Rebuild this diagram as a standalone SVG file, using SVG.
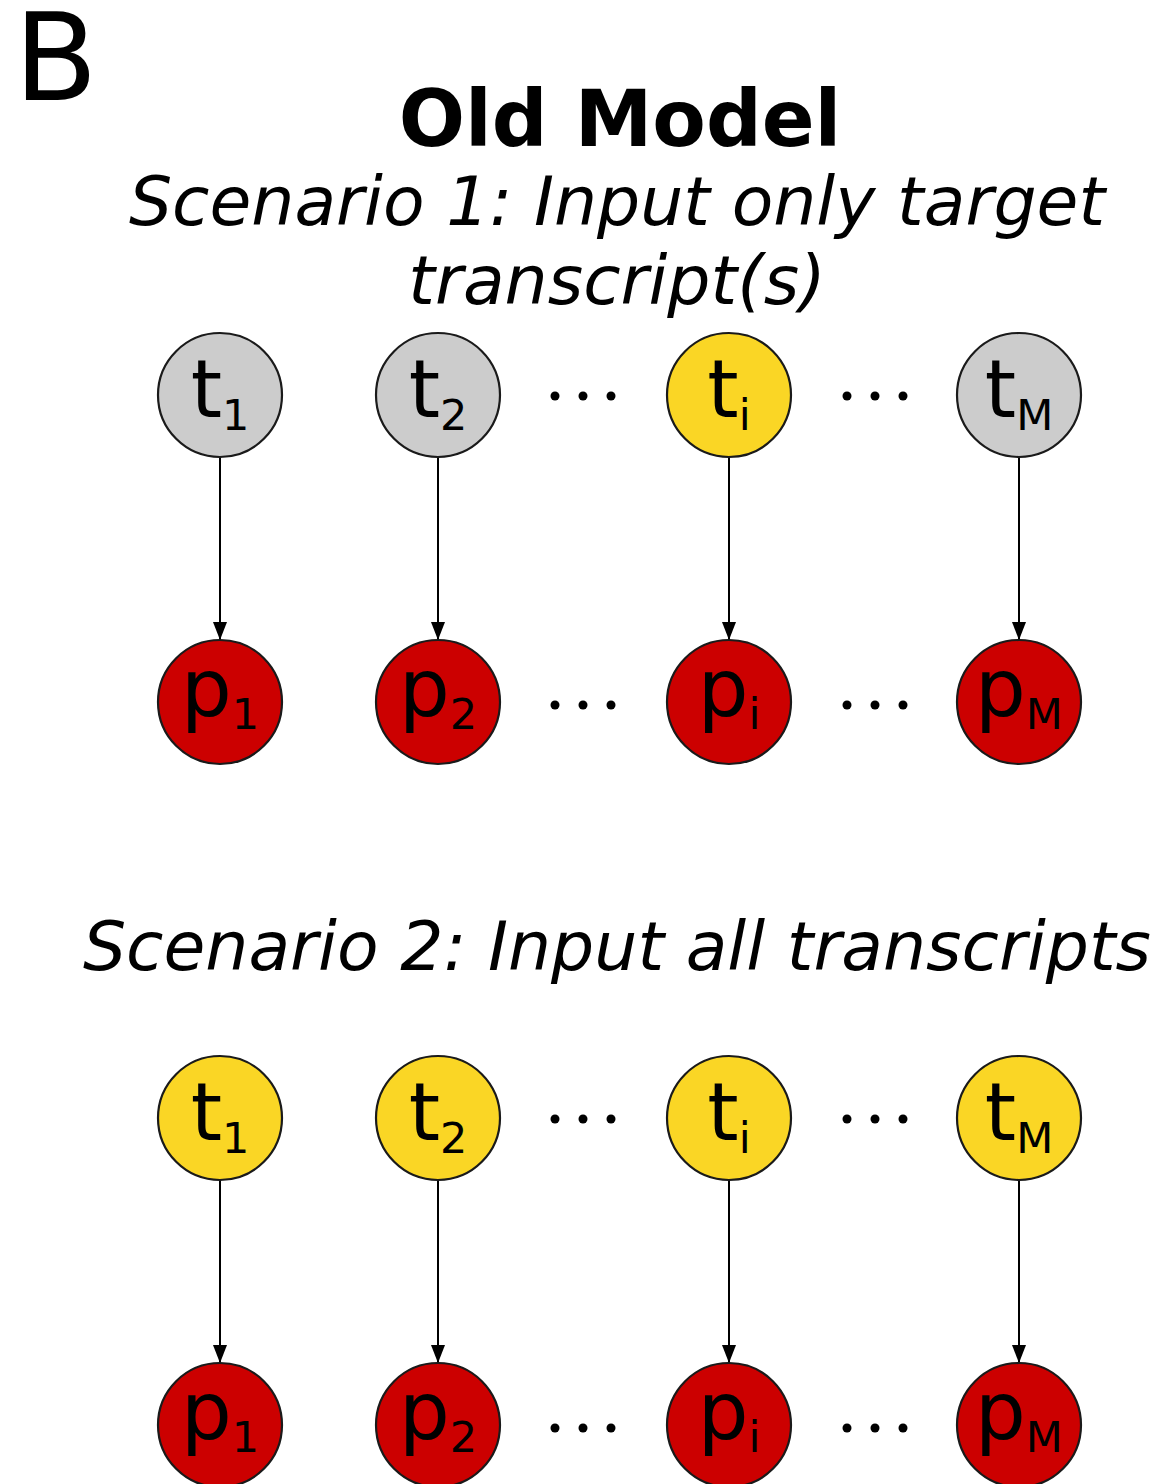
<svg xmlns="http://www.w3.org/2000/svg" width="1152" height="1484" viewBox="0 0 1152 1484">
  <style>
    .title { font-family: "DejaVu Sans", sans-serif; fill: #000; }
    .head { font-weight: bold; font-size: 78px; }
    .scen { font-style: oblique; font-size: 68px; }
    .node circle { stroke: #1a1a1a; stroke-width: 2.2; }
    .gray { fill: #cccccc; }
    .yellow { fill: #fad625; }
    .red { fill: #cc0000; }
    .lbl { font-family: "DejaVu Sans", sans-serif; font-size: 80px; fill: #000; text-anchor: middle; }
    .sub { font-size: 43px; }
    .edge { stroke: #000; stroke-width: 2; fill: none; marker-end: url(#arrow); }
    .dots circle { fill: #000; }
  </style>
  <defs>
    <!-- filled arrowhead, tip on the end point of the line -->
    <marker id="arrow" viewBox="0 0 18 14" markerWidth="18" markerHeight="14" refX="18" refY="7" orient="auto" markerUnits="userSpaceOnUse">
      <path d="M0,0 L18,7 L0,14 Z" fill="#000"/>
    </marker>
  </defs>
  <rect width="1152" height="1484" fill="#fff"/>

  <!-- panel letter and headings -->
  <text class="title" x="14" y="100" font-size="122">B</text>
  <text class="title head" x="620" y="146" text-anchor="middle">Old Model</text>
  <text class="title scen" x="617" y="225" text-anchor="middle">Scenario 1: Input only target</text>
  <text class="title scen" x="617" y="304" text-anchor="middle">transcript(s)</text>
  <text class="title scen" x="617" y="970" text-anchor="middle">Scenario 2: Input all transcripts</text>

  <!-- connectors -->
  <g id="connectors">
    <line class="edge" x1="220" y1="457" x2="220" y2="640"/>
    <line class="edge" x1="438" y1="457" x2="438" y2="640"/>
    <line class="edge" x1="729" y1="457" x2="729" y2="640"/>
    <line class="edge" x1="1019" y1="457" x2="1019" y2="640"/>
    <line class="edge" x1="220" y1="1180" x2="220" y2="1363"/>
    <line class="edge" x1="438" y1="1180" x2="438" y2="1363"/>
    <line class="edge" x1="729" y1="1180" x2="729" y2="1363"/>
    <line class="edge" x1="1019" y1="1180" x2="1019" y2="1363"/>
  </g>

  <!-- scenario 1: transcripts -->
  <g id="s1_t1" class="node"><circle class="gray" cx="220" cy="395" r="62"/><text class="lbl" x="220" y="417">t<tspan class="sub" dy="13">1</tspan></text></g>
  <g id="s1_t2" class="node"><circle class="gray" cx="438" cy="395" r="62"/><text class="lbl" x="438" y="417">t<tspan class="sub" dy="13">2</tspan></text></g>
  <g id="s1_ti" class="node"><circle class="yellow" cx="729" cy="395" r="62"/><text class="lbl" x="729" y="417">t<tspan class="sub" dy="13">i</tspan></text></g>
  <g id="s1_tM" class="node"><circle class="gray" cx="1019" cy="395" r="62"/><text class="lbl" x="1019" y="417">t<tspan class="sub" dy="13">M</tspan></text></g>

  <!-- scenario 1: proteins -->
  <g id="s1_p1" class="node"><circle class="red" cx="220" cy="702" r="62"/><text class="lbl" x="220" y="716">p<tspan class="sub" dy="13">1</tspan></text></g>
  <g id="s1_p2" class="node"><circle class="red" cx="438" cy="702" r="62"/><text class="lbl" x="438" y="716">p<tspan class="sub" dy="13">2</tspan></text></g>
  <g id="s1_pi" class="node"><circle class="red" cx="729" cy="702" r="62"/><text class="lbl" x="729" y="716">p<tspan class="sub" dy="13">i</tspan></text></g>
  <g id="s1_pM" class="node"><circle class="red" cx="1019" cy="702" r="62"/><text class="lbl" x="1019" y="716">p<tspan class="sub" dy="13">M</tspan></text></g>

  <!-- scenario 2: transcripts -->
  <g id="s2_t1" class="node"><circle class="yellow" cx="220" cy="1118" r="62"/><text class="lbl" x="220" y="1140">t<tspan class="sub" dy="13">1</tspan></text></g>
  <g id="s2_t2" class="node"><circle class="yellow" cx="438" cy="1118" r="62"/><text class="lbl" x="438" y="1140">t<tspan class="sub" dy="13">2</tspan></text></g>
  <g id="s2_ti" class="node"><circle class="yellow" cx="729" cy="1118" r="62"/><text class="lbl" x="729" y="1140">t<tspan class="sub" dy="13">i</tspan></text></g>
  <g id="s2_tM" class="node"><circle class="yellow" cx="1019" cy="1118" r="62"/><text class="lbl" x="1019" y="1140">t<tspan class="sub" dy="13">M</tspan></text></g>

  <!-- scenario 2: proteins -->
  <g id="s2_p1" class="node"><circle class="red" cx="220" cy="1425" r="62"/><text class="lbl" x="220" y="1439">p<tspan class="sub" dy="13">1</tspan></text></g>
  <g id="s2_p2" class="node"><circle class="red" cx="438" cy="1425" r="62"/><text class="lbl" x="438" y="1439">p<tspan class="sub" dy="13">2</tspan></text></g>
  <g id="s2_pi" class="node"><circle class="red" cx="729" cy="1425" r="62"/><text class="lbl" x="729" y="1439">p<tspan class="sub" dy="13">i</tspan></text></g>
  <g id="s2_pM" class="node"><circle class="red" cx="1019" cy="1425" r="62"/><text class="lbl" x="1019" y="1439">p<tspan class="sub" dy="13">M</tspan></text></g>

  <!-- ellipses between columns -->
  <g class="dots">
    <circle cx="555" cy="396" r="4.5"/><circle cx="583" cy="396" r="4.5"/><circle cx="611" cy="396" r="4.5"/>
    <circle cx="847" cy="396" r="4.5"/><circle cx="875" cy="396" r="4.5"/><circle cx="903" cy="396" r="4.5"/>
    <circle cx="555" cy="705" r="4.5"/><circle cx="583" cy="705" r="4.5"/><circle cx="611" cy="705" r="4.5"/>
    <circle cx="847" cy="705" r="4.5"/><circle cx="875" cy="705" r="4.5"/><circle cx="903" cy="705" r="4.5"/>
    <circle cx="555" cy="1119" r="4.5"/><circle cx="583" cy="1119" r="4.5"/><circle cx="611" cy="1119" r="4.5"/>
    <circle cx="847" cy="1119" r="4.5"/><circle cx="875" cy="1119" r="4.5"/><circle cx="903" cy="1119" r="4.5"/>
    <circle cx="555" cy="1428" r="4.5"/><circle cx="583" cy="1428" r="4.5"/><circle cx="611" cy="1428" r="4.5"/>
    <circle cx="847" cy="1428" r="4.5"/><circle cx="875" cy="1428" r="4.5"/><circle cx="903" cy="1428" r="4.5"/>
  </g>
</svg>
